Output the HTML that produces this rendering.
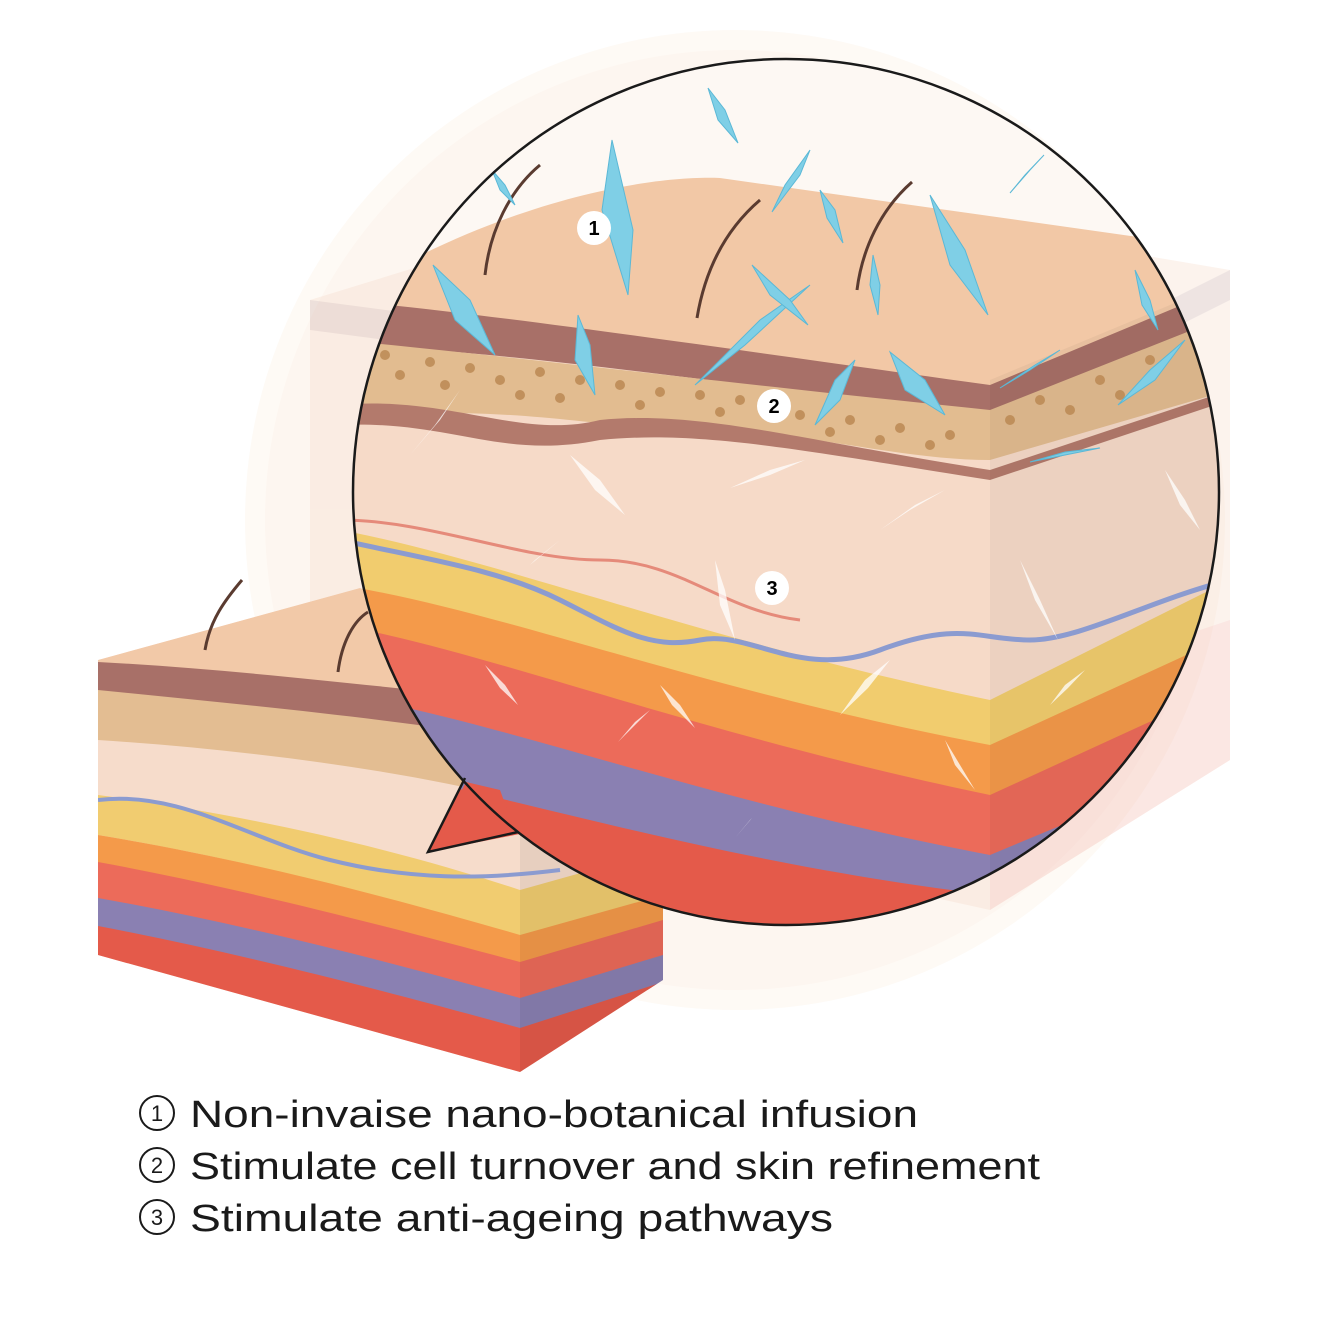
<!DOCTYPE html>
<html><head><meta charset="utf-8"><style>
html,body{margin:0;padding:0;background:#fff;}
svg{display:block}
.t{font-family:"Liberation Sans",sans-serif;}
</style></head><body>
<svg width="1321" height="1321" viewBox="0 0 1321 1321" xmlns="http://www.w3.org/2000/svg">
<defs>
<clipPath id="mag"><circle cx="786" cy="492" r="433"/><polygon points="470,770 428,852 530,832 560,790"/></clipPath>
<clipPath id="sm"><polygon points="98,660 360,588 663,700 663,980 520,1072 98,955"/></clipPath>
</defs>
<circle cx="735" cy="520" r="490" fill="#fefaf5"/>
<circle cx="735" cy="520" r="470" fill="#fdf6f0"/>
<g opacity="0.3">
<polygon points="310,300 700,180 1230,270 1230,760 990,910 310,760" fill="#f6d8c6"/>
<polygon points="990,700 1230,620 1230,760 990,910" fill="#f3b1a6"/>
<polygon points="310,300 990,390 1230,270 1230,300 990,420 310,330" fill="#c9a7a0"/>
</g>
<g clip-path="url(#sm)">
<rect x="90" y="580" width="580" height="500" fill="#f6dccb"/>
<polygon points="98,660 360,588 663,700 663,720 520,760 98,670" fill="#f2c9a8"/>
<path d="M98,662 C250,670 400,690 520,700 L663,660 L663,730 L520,760 C400,740 250,720 98,700Z" fill="#a87068"/>
<path d="M98,690 C250,705 400,720 520,740 L663,700 L663,760 L520,800 C400,770 250,750 98,740Z" fill="#e3bd92"/>
<path d="M98,795 C250,815 400,850 520,890 L663,850 L663,900 L520,940 C400,900 250,860 98,835Z" fill="#f1cc70"/>
<path d="M98,835 C250,860 400,900 520,935 L663,895 L663,925 L520,965 C400,930 250,890 98,865Z" fill="#f49a4a"/>
<path d="M98,862 C250,890 400,930 520,962 L663,920 L663,960 L520,1000 C400,965 250,925 98,900Z" fill="#ec6b5a"/>
<path d="M98,898 C250,925 400,965 520,998 L663,955 L663,985 L520,1030 C400,995 250,955 98,928Z" fill="#8a80b2"/>
<path d="M98,926 C250,955 400,995 520,1028 L663,982 L663,1080 L98,1080Z" fill="#e45a4a"/>
<polygon points="520,700 663,660 663,1080 520,1080" fill="#000" opacity="0.06"/>
<path d="M98,800 C180,790 250,840 330,860 S480,880 560,870" stroke="#8b9bd0" stroke-width="4" fill="none"/>
</g>
<path d="M205,650 C210,620 225,600 242,580" stroke="#5a3b30" stroke-width="3" fill="none"/>
<path d="M338,672 C342,640 355,620 368,612" stroke="#5a3b30" stroke-width="3" fill="none"/>
<g clip-path="url(#mag)">
<rect x="340" y="50" width="900" height="900" fill="#fdf8f3"/>
<path d="M340,330 L990,400 L1230,300 L1230,960 L340,960Z" fill="#f6dac8"/>
<path d="M340,300 C500,200 650,175 720,178 L1230,250 L1230,290 L990,390 L340,300Z" fill="#f2c8a6"/>
<path d="M340,300 C500,315 700,345 990,385 L1230,285 L1230,320 L990,415 C700,380 500,350 340,345Z" fill="#a87068"/>
<path d="M340,340 C500,355 700,380 990,410 L1230,315 L1230,390 L990,460 C900,460 800,430 700,430 C600,430 500,400 340,420Z" fill="#e2bc90"/>
<path d="M340,405 C450,395 520,440 600,420 C700,410 800,440 990,470 L1230,390 L1230,400 L990,480 C800,450 700,430 600,440 C500,460 450,420 340,425Z" fill="#b37a6c"/>
<path d="M340,530 C500,560 700,640 990,700 L1230,580 L1230,640 L990,750 C700,690 500,610 340,590Z" fill="#f1cc6e"/>
<path d="M340,585 C500,610 700,690 990,745 L1230,635 L1230,690 L990,800 C700,740 500,660 340,630Z" fill="#f49a4a"/>
<path d="M340,625 C500,655 700,735 990,795 L1230,685 L1230,760 L990,860 C700,800 500,720 340,700Z" fill="#ec6b5a"/>
<path d="M340,695 C500,720 700,800 990,855 L1230,755 L1230,820 L990,900 C700,860 500,790 340,770Z" fill="#8a80b2"/>
<path d="M340,765 C500,790 700,860 990,895 L1230,815 L1230,960 L340,960Z" fill="#e45a4a"/>
<polygon points="990,380 1230,280 1230,960 990,960" fill="#000" opacity="0.04"/>
<path d="M340,540 C430,560 500,570 560,600 S650,650 700,640 S800,680 880,650 S980,640 1030,640 S1150,600 1230,580" stroke="#8b9bd0" stroke-width="5" fill="none"/>
<path d="M340,520 C430,520 520,560 600,560 S720,610 800,620" stroke="#e58a7a" stroke-width="3" fill="none"/>
<g fill="#b98650" opacity="0.8">
<circle cx="385" cy="355" r="5"/><circle cx="400" cy="375" r="5"/><circle cx="430" cy="362" r="5"/><circle cx="445" cy="385" r="5"/><circle cx="470" cy="368" r="5"/><circle cx="500" cy="380" r="5"/><circle cx="520" cy="395" r="5"/><circle cx="540" cy="372" r="5"/><circle cx="560" cy="398" r="5"/><circle cx="580" cy="380" r="5"/><circle cx="620" cy="385" r="5"/><circle cx="640" cy="405" r="5"/><circle cx="660" cy="392" r="5"/><circle cx="700" cy="395" r="5"/><circle cx="720" cy="412" r="5"/><circle cx="740" cy="400" r="5"/><circle cx="800" cy="415" r="5"/><circle cx="830" cy="432" r="5"/><circle cx="850" cy="420" r="5"/><circle cx="880" cy="440" r="5"/><circle cx="900" cy="428" r="5"/><circle cx="930" cy="445" r="5"/><circle cx="950" cy="435" r="5"/><circle cx="1010" cy="420" r="5"/><circle cx="1040" cy="400" r="5"/><circle cx="1070" cy="410" r="5"/><circle cx="1100" cy="380" r="5"/><circle cx="1120" cy="395" r="5"/><circle cx="1150" cy="360" r="5"/>
</g>
<g stroke="#5a3b30" stroke-width="3" fill="none">
<path d="M485,275 C490,230 510,190 540,165"/>
<path d="M697,318 C705,270 725,230 760,200"/>
<path d="M857,290 C862,250 880,210 912,182"/>
</g>
<g fill="#7fcfe6" stroke="#5bb8d6" stroke-width="1">
<polygon points="612,140 633,230 628,295 602,210"/>
<polygon points="433,265 470,300 495,355 455,320"/>
<polygon points="810,285 760,320 695,385 745,345"/>
<polygon points="578,315 590,345 595,395 575,360"/>
<polygon points="930,195 965,250 988,315 950,265"/>
<polygon points="890,352 925,380 945,415 905,390"/>
<polygon points="855,360 835,380 815,425 840,400"/>
<polygon points="708,88 725,110 738,143 718,120"/>
<polygon points="810,150 800,175 772,212 785,185"/>
<polygon points="820,190 835,210 843,243 827,218"/>
<polygon points="752,265 790,300 808,325 770,295"/>
<polygon points="1044,155 1025,175 1010,193 1030,170"/>
<polygon points="1060,350 1030,370 1000,388 1035,365"/>
<polygon points="1185,340 1150,370 1118,405 1155,380"/>
<polygon points="1135,270 1150,300 1158,330 1142,305"/>
<polygon points="1100,448 1065,455 1030,462 1065,452"/>
<polygon points="492,170 505,185 515,205 500,190"/>
<polygon points="873,255 880,285 878,315 870,285"/>
</g>
<g fill="#fff" opacity="0.75">
<polygon points="460,390 440,420 410,455 435,425"/>
<polygon points="570,455 600,480 625,515 595,490"/>
<polygon points="805,460 770,475 730,488 770,470"/>
<polygon points="945,490 910,510 880,530 915,505"/>
<polygon points="715,560 725,590 735,640 720,605"/>
<polygon points="560,540 530,565 505,590 535,560"/>
<polygon points="485,665 505,685 518,705 500,688"/>
<polygon points="660,685 680,705 695,728 672,705"/>
<polygon points="650,710 635,725 618,742 635,722"/>
<polygon points="890,660 865,680 840,715 868,688"/>
<polygon points="945,740 960,765 975,790 955,765"/>
<polygon points="765,805 750,820 735,838 752,818"/>
<polygon points="1020,560 1040,600 1058,640 1035,600"/>
<polygon points="1085,670 1065,685 1050,705 1068,688"/>
<polygon points="1165,470 1185,500 1200,530 1180,505"/>
</g>
</g>
<polygon points="466,782 432,849 515,831 500,790" fill="#e45a4a"/>
<circle cx="786" cy="492" r="433" fill="none" stroke="#1a1a1a" stroke-width="2.5"/>
<path d="M465,778 L428,852 L518,832" fill="none" stroke="#1a1a1a" stroke-width="2.5"/>
<g class="t" font-size="20" font-weight="bold" text-anchor="middle">
<circle cx="594" cy="228" r="17" fill="#fff"/><text x="594" y="235">1</text>
<circle cx="774" cy="406" r="17" fill="#fff"/><text x="774" y="413">2</text>
<circle cx="772" cy="588" r="17" fill="#fff"/><text x="772" y="595">3</text>
</g>
<g class="t" font-size="38" fill="#1a1a1a">
<circle cx="157" cy="1113" r="17" fill="none" stroke="#1a1a1a" stroke-width="2"/><text x="157" y="1121" font-size="22" text-anchor="middle">1</text>
<text x="190" y="1127" textLength="728" lengthAdjust="spacingAndGlyphs">Non-invaise nano-botanical infusion</text>
<circle cx="157" cy="1165" r="17" fill="none" stroke="#1a1a1a" stroke-width="2"/><text x="157" y="1173" font-size="22" text-anchor="middle">2</text>
<text x="190" y="1179" textLength="850" lengthAdjust="spacingAndGlyphs">Stimulate cell turnover and skin refinement</text>
<circle cx="157" cy="1217" r="17" fill="none" stroke="#1a1a1a" stroke-width="2"/><text x="157" y="1225" font-size="22" text-anchor="middle">3</text>
<text x="190" y="1231" textLength="643" lengthAdjust="spacingAndGlyphs">Stimulate anti-ageing pathways</text>
</g>
</svg>
</body></html>
